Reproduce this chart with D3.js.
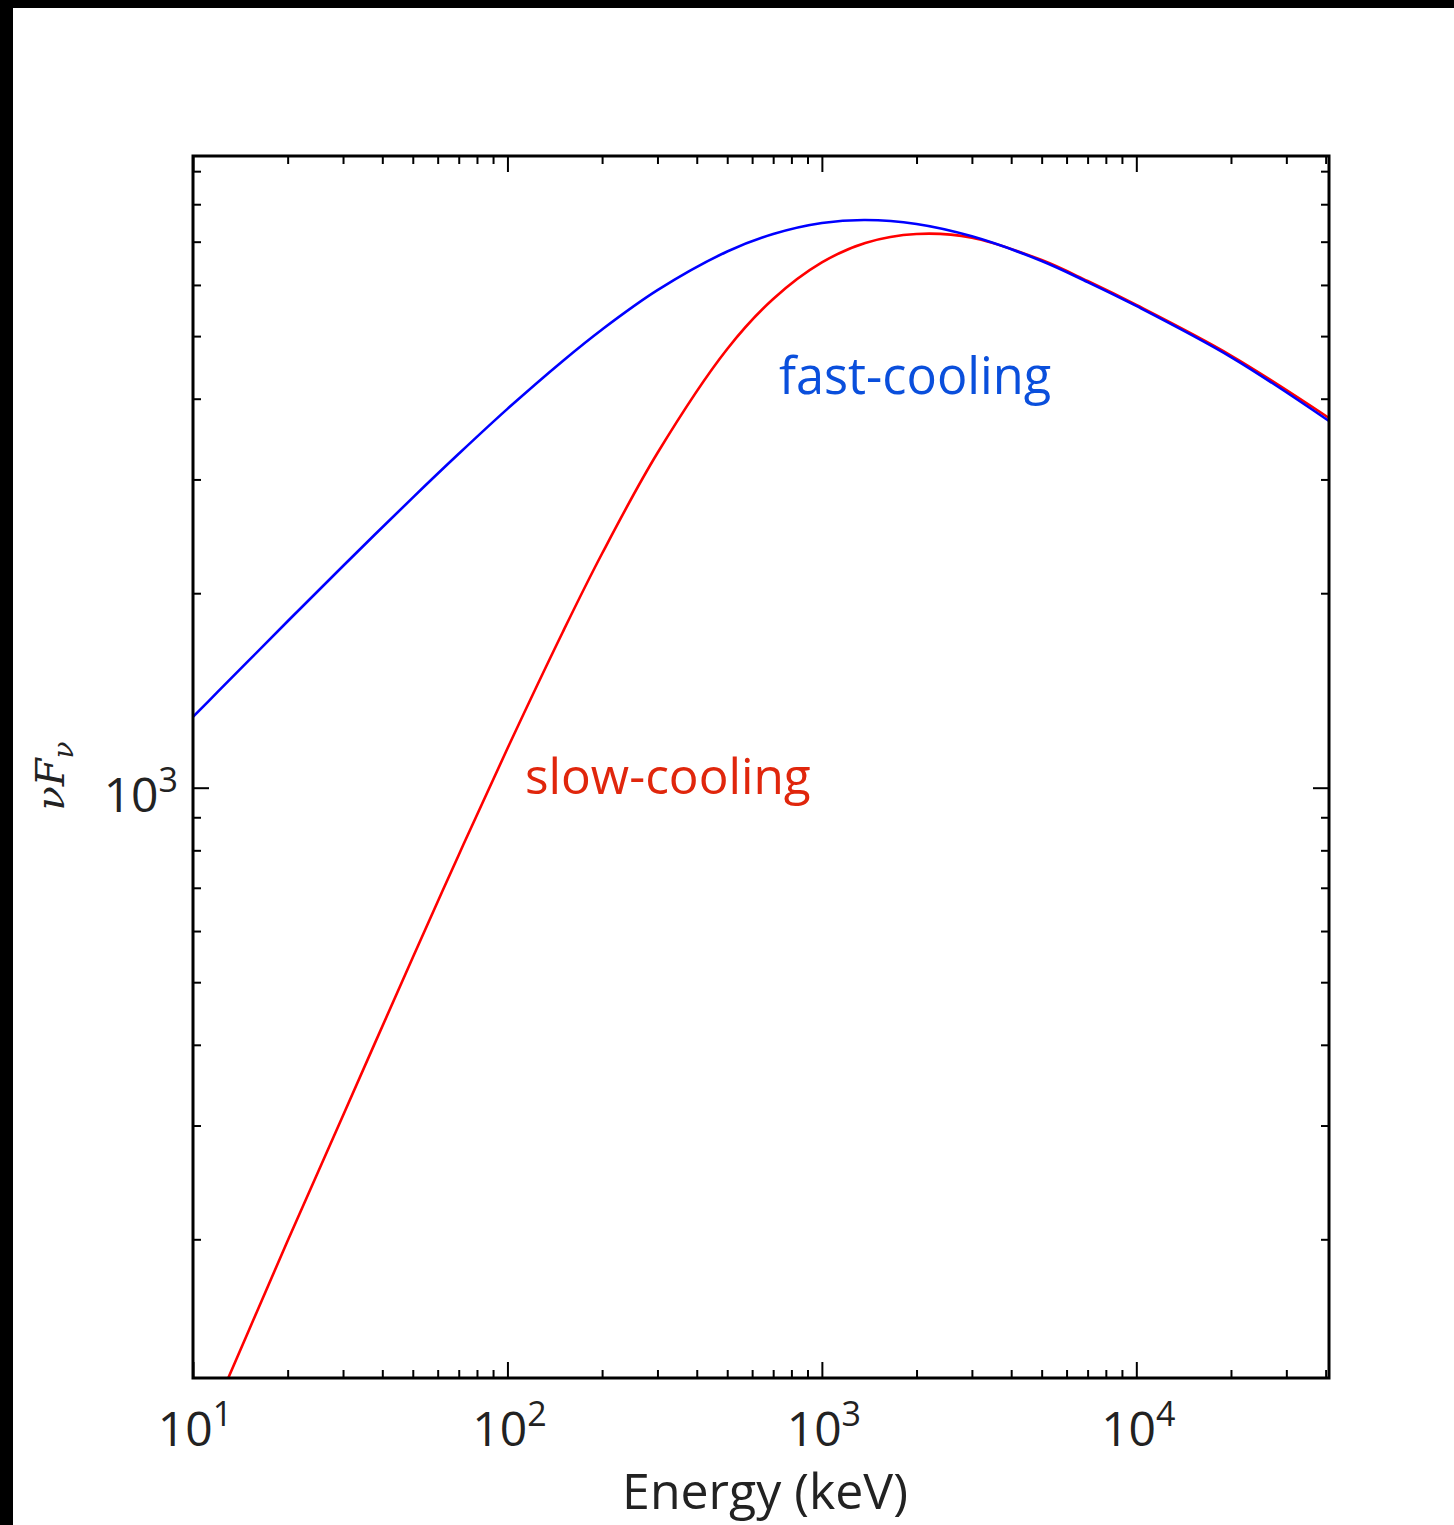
<!DOCTYPE html>
<html>
<head>
<meta charset="utf-8">
<script src="https://cdn.jsdelivr.net/npm/d3@7"></script>
<style>
  body { margin: 0; background: #fff; }
  svg { display: block; }
</style>
</head>
<body>
<div id="plot"></div>
<script>
// photon energy (keV) where the curves were read
const energy = [10, 12, 15, 20, 30, 50, 70, 100, 150, 200, 300, 500, 700, 1000, 1374, 2000, 3000, 5000, 7000, 10000, 20000, 41000];
// nuF_nu
const fastCooling = [1287, 1408, 1571, 1810, 2204, 2812, 3287, 3858, 4577, 5120, 5890, 6760, 7194, 7482, 7563, 7456, 7135, 6535, 6062, 5567, 4641, 3695];
const slowCooling = [null, 112, 144, 199, 311, 546, 787, 1150, 1742, 2304, 3296, 4775, 5706, 6500, 6968, 7194, 7101, 6556, 6084, 5586, 4666, 3735];

const xMajor = [10, 100, 1000, 10000];
const xMinor = [20,30,40,50,60,70,80,90, 200,300,400,500,600,700,800,900,
  2000,3000,4000,5000,6000,7000,8000,9000, 20000,30000,40000];
const yMajor = [1000];
const yMinor = [200,300,400,500,600,700,800,900, 2000,3000,4000,5000,6000,7000,8000,9000];

const W = 1454, H = 1525;
const margin = { top: 156, right: 125, bottom: 147, left: 193 };
const width = W - margin.left - margin.right,
  height = H - margin.top - margin.bottom;

const svg = d3.select("#plot").append("svg")
  .attr("width", W).attr("height", H);

// black strips at top and left of the screenshot
svg.append("rect").attr("x", 0).attr("y", 0).attr("width", W).attr("height", 8).attr("fill", "#000");
svg.append("rect").attr("x", 0).attr("y", 0).attr("width", 13).attr("height", H).attr("fill", "#000");

const g = svg.append("g").attr("transform", "translate(" + margin.left + "," + margin.top + ")");

const x = d3.scaleLog().domain([10, 41000]).range([0, width]);
const y = d3.scaleLog().domain([122, 9500]).range([height, 0]);

g.append("defs").append("clipPath").attr("id", "clip")
  .append("rect").attr("width", width).attr("height", height);

function line(vals) {
  return d3.line()
    .defined((d, i) => vals[i] != null)
    .x((d, i) => x(energy[i]))
    .y((d, i) => y(vals[i]))
    .curve(d3.curveCatmullRom.alpha(0.5))(energy);
}

const curves = g.append("g").attr("clip-path", "url(#clip)");
curves.append("path").attr("d", line(slowCooling))
  .attr("fill", "none").attr("stroke", "#ff0000").attr("stroke-width", 2.6);
curves.append("path").attr("d", line(fastCooling))
  .attr("fill", "none").attr("stroke", "#0000ff").attr("stroke-width", 2.6);

// ticks on all four sides, pointing inwards
function tickGroup(axisFn, scale, vals, size, transform) {
  const a = g.append("g").attr("transform", transform)
    .call(axisFn(scale).tickValues(vals).tickSizeInner(-size).tickSizeOuter(0).tickFormat(""));
  a.select(".domain").remove();
  a.selectAll("line").attr("stroke", "#000").attr("stroke-width", 2);
}
tickGroup(d3.axisBottom, x, xMinor, 8, "translate(0," + height + ")");
tickGroup(d3.axisBottom, x, xMajor, 16, "translate(0," + height + ")");
tickGroup(d3.axisTop, x, xMinor, 8, "translate(0,0)");
tickGroup(d3.axisTop, x, xMajor, 16, "translate(0,0)");
tickGroup(d3.axisLeft, y, yMinor, 8, "translate(0,0)");
tickGroup(d3.axisLeft, y, yMajor, 16, "translate(0,0)");
tickGroup(d3.axisRight, y, yMinor, 8, "translate(" + width + ",0)");
tickGroup(d3.axisRight, y, yMajor, 16, "translate(" + width + ",0)");

g.append("rect").attr("width", width).attr("height", height)
  .attr("fill", "none").attr("stroke", "#000").attr("stroke-width", 3);

const font = "'Open Sans', 'Noto Sans', sans-serif";

// tick labels 10^n
xMajor.forEach(v => {
  const t = g.append("text")
    .attr("x", x(v) + 2).attr("y", height + 68)
    .attr("text-anchor", "middle")
    .attr("font-family", font).attr("font-size", 48).attr("fill", "#222");
  t.append("tspan").text("10");
  t.append("tspan").attr("font-size", 34).attr("dy", -20).text(Math.round(Math.log10(v)));
});
yMajor.forEach(v => {
  const t = g.append("text")
    .attr("x", -15).attr("y", y(v) + 24)
    .attr("text-anchor", "end")
    .attr("font-family", font).attr("font-size", 48).attr("fill", "#222");
  t.append("tspan").text("10");
  t.append("tspan").attr("font-size", 34).attr("dy", -20).text(Math.round(Math.log10(v)));
});

g.append("text")
  .attr("x", width / 2 + 4).attr("y", height + 131)
  .attr("text-anchor", "middle")
  .attr("font-family", font).attr("font-size", 50).attr("fill", "#222")
  .text("Energy (keV)");

const yl = svg.append("text")
  .attr("transform", "translate(64," + 776 + ") rotate(-90)")
  .attr("text-anchor", "middle")
  .attr("font-family", "'DejaVu Serif', serif").attr("font-style", "italic")
  .attr("font-size", 40).attr("fill", "#222");
yl.append("tspan").text("\u03BDF");
yl.append("tspan").attr("font-size", 28).attr("dy", 9).text("\u03BD");

// curve labels
svg.append("text").attr("x", 779).attr("y", 394)
  .attr("font-family", font).attr("font-size", 50.5).attr("fill", "#0a4fdc")
  .text("fast-cooling");
svg.append("text").attr("x", 525).attr("y", 794)
  .attr("font-family", font).attr("font-size", 49.5).attr("fill", "#e0260c")
  .text("slow-cooling");
</script>
</body>
</html>
